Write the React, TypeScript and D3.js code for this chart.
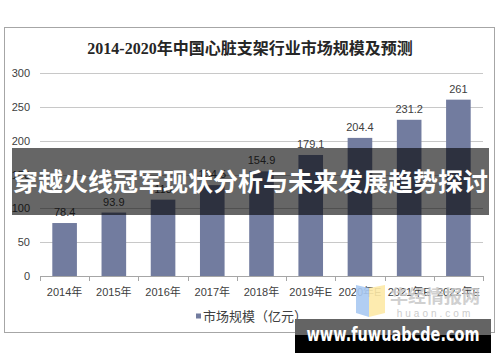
import React from "react";
import * as d3 from "d3";

const categories = ["2014年", "2015年", "2016年", "2017年", "2018年", "2019年E", "2020年E", "2021年E", "2022年E"];
const values = [78.4, 93.9, 113.0, 134.5, 154.9, 179.1, 204.4, 231.2, 261];
const valueLabels = ["78.4", "93.9", "113", "134.5", "154.9", "179.1", "204.4", "231.2", "261"];
const yTicks = [0, 50, 100, 150, 200, 250, 300];
const title = "2014-2020年中国心脏支架行业市场规模及预测";
const legendLabel = "市场规模（亿元）";
const bannerText = "穿越火线冠军现状分析与未来发展趋势探讨";
const siteText = "www.fuwuabcde.com";

const W = 500;
const H = 362;
const barColor = "#727c9f";
const textColor = "#404040";
const sans = "'Liberation Sans', Arial, 'Noto Sans CJK SC', sans-serif";

export default function App() {
  const x = d3.scaleBand<string>().domain(categories).range([40, 483]).padding(0);
  const y = d3.scaleLinear().domain([0, 300]).range([276, 73.3]);
  const bw = x.bandwidth() * 0.5;

  return (
    <svg width={W} height={H} style={{ position: "absolute", left: 0, top: 0, background: "#fff" }}>
      <rect x={0} y={0} width={W} height={H} fill="#fff" />
      {/* frame */}
      <rect x={4.5} y={27.5} width={490} height={305} fill="#fff" stroke="#a6a6a6" strokeWidth={1} />
      {/* title */}
      <text x={250} y={54} textAnchor="middle" fontFamily="'Liberation Serif', 'Noto Sans CJK SC', serif" fontWeight="bold" fontSize={16} fill="#262626">
        {title}
      </text>
      {/* gridlines */}
      {yTicks.filter((t) => t > 0).map((t) => (
        <line key={t} x1={40} x2={483} y1={Math.round(y(t)) + 0.5} y2={Math.round(y(t)) + 0.5} stroke="#c8c8c8" strokeWidth={1} />
      ))}
      {/* y labels */}
      {yTicks.map((t) => (
        <text key={t} x={30} y={y(t)} dy="0.35em" textAnchor="end" fontFamily={sans} fontSize={11} fill={textColor}>
          {t}
        </text>
      ))}
      {/* bars */}
      {categories.map((c, i) => (
        <rect key={c} x={(x(c) as number) + x.bandwidth() / 2 - bw / 2} y={y(values[i])} width={bw} height={y(0) - y(values[i])} fill={barColor} />
      ))}
      {/* value labels */}
      {categories.map((c, i) => (
        <text key={c} x={(x(c) as number) + x.bandwidth() / 2} y={y(values[i]) - 7} textAnchor="middle" fontFamily={sans} fontSize={11} fill={textColor}>
          {valueLabels[i]}
        </text>
      ))}
      {/* x axis */}
      <line x1={40} x2={483} y1={276.5} y2={276.5} stroke="#a6a6a6" strokeWidth={1} />
      {[...categories.map((c) => x(c) as number), 483].map((px, i) => (
        <line key={i} x1={Math.round(px) + 0.5} x2={Math.round(px) + 0.5} y1={276} y2={281} stroke="#a6a6a6" strokeWidth={1} />
      ))}
      {categories.map((c) => (
        <text key={c} x={(x(c) as number) + x.bandwidth() / 2} y={292} dy="0.35em" textAnchor="middle" fontFamily={sans} fontSize={11} fill={textColor}>
          {c}
        </text>
      ))}
      {/* huaon watermark */}
      <polygon points="356,285 369,288 369,317 356,313" fill="#a9c9f2" opacity={0.9} />
      <polygon points="369,288 385,285 385,313 369,317" fill="#fde9a6" opacity={0.9} />
      <text x={435} y={297} dy="0.35em" textAnchor="middle" fontFamily="'Noto Sans CJK SC', sans-serif" fontSize={18} fontWeight="bold" fill="#c8c8c8" opacity={0.85}>
        华经情报网
      </text>
      <text x={435} y={313} dy="0.35em" textAnchor="middle" fontFamily={sans} fontSize={10} letterSpacing={3} fill="#cccccc">
        huaon.com
      </text>
      {/* legend */}
      <rect x={196} y={313.5} width={5} height={5} fill={barColor} />
      <text x={203} y={316} dy="0.35em" fontFamily="'Noto Sans CJK SC', sans-serif" fontSize={13} fill={textColor}>
        {legendLabel}
      </text>
      {/* banner overlay */}
      <rect x={12} y={148} width={477} height={67} fill="#000" fillOpacity={0.6} />
      <text x={250.5} y={182} dy="0.35em" textAnchor="middle" fontFamily="'Noto Sans CJK SC', sans-serif" fontWeight="bold" fontSize={25} fill="#fff">
        {bannerText}
      </text>
      {/* site watermark */}
      <rect x={295} y={319} width={196} height={17} fill="#646464" />
      <rect x={295} y={335} width={196} height={18} fill="#000" />
      <text x={393} y={341} textAnchor="middle" fontFamily="'DejaVu Sans', sans-serif" fontWeight="bold" fontSize={19} fill="#fff" textLength={173} lengthAdjust="spacingAndGlyphs">
        {siteText}
      </text>
    </svg>
  );
}
